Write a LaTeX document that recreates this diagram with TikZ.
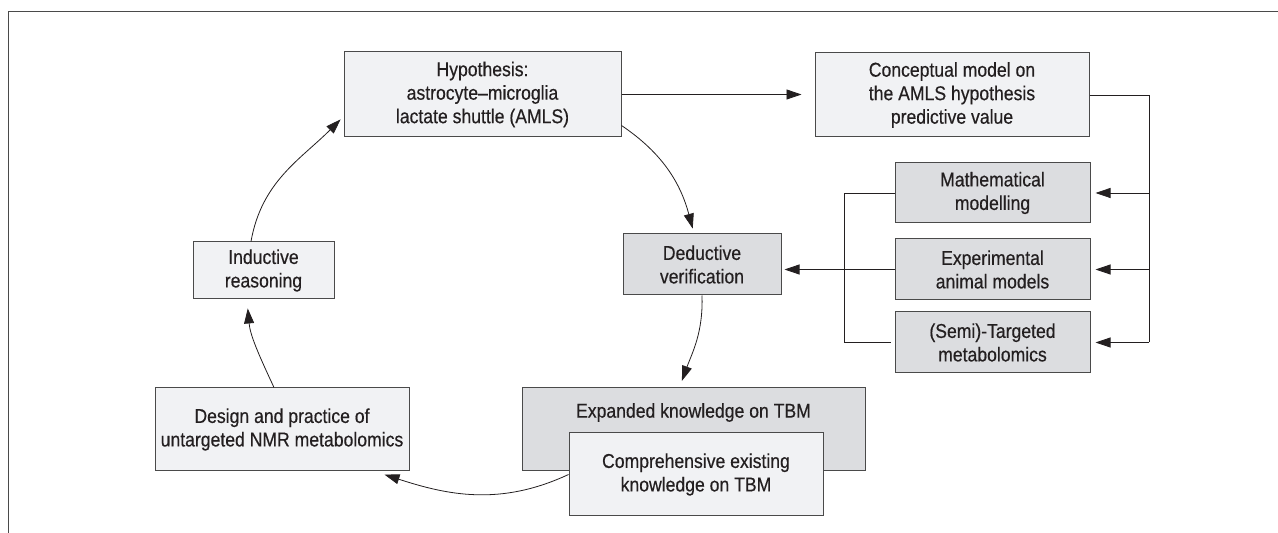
\documentclass[tikz,border=0pt]{standalone}
\usepackage{fontspec}
\setmainfont{Liberation Sans}[FakeStretch=0.88, FakeBold=0.4]
\usetikzlibrary{positioning, arrows.meta}
\definecolor{boxlight}{HTML}{F1F2F4}
\definecolor{boxdark}{HTML}{DCDDE0}
\definecolor{edgegray}{HTML}{4A4A4A}
\definecolor{inkgray}{HTML}{231F20}

\begin{document}
\begin{tikzpicture}[x=1pt, y=1pt,
	every node/.style={font=\fontsize{20}{23.5}\selectfont, text=inkgray, align=center, inner sep=0pt},
	lightbox/.style={draw=edgegray, line width=1pt, fill=boxlight},
	darkbox/.style={draw=edgegray, line width=1pt, fill=boxdark},
	link/.style={draw=inkgray, line width=0.8pt},
	arrowlink/.style={link, -{Triangle[length=15pt, width=10pt]}}]
	\useasboundingbox (0,0) rectangle (1278,533);
	\draw[edgegray, line width=1pt] (8,0) -- (8,521) -- (1278,521);
	
	\node[lightbox, minimum width=277pt, minimum height=85pt] (hyp) at (482.5,438.5) {Hypothesis:\\astrocyte--microglia\\lactate shuttle (AMLS)};
	\node[lightbox, minimum width=274pt, minimum height=84pt] (concept) at (952,438) {Conceptual model on\\the AMLS hypothesis\\predictive value};
	\node[darkbox, minimum width=195pt, minimum height=60pt] (math) at (992.5,340) {Mathematical\\modelling};
	\node[darkbox, minimum width=195pt, minimum height=61pt, below=15pt of math] (expt) {Experimental\\animal models};
	\node[darkbox, minimum width=195pt, minimum height=61pt, below=11pt of expt] (semi) {(Semi)-Targeted\\metabolomics};
	\node[darkbox, minimum width=158pt, minimum height=61pt] (ded) at (702,268.5) {Deductive\\verification};
	\node[lightbox, minimum width=141pt, minimum height=57pt] (ind) at (263.5,262.5) {Inductive\\reasoning};
	\node[lightbox, minimum width=254pt, minimum height=83pt] (design) at (282,103.5) {Design and practice of\\untargeted NMR metabolomics};
	\node[darkbox, minimum width=343pt, minimum height=83pt, right=112pt of design,
		label={[anchor=center, yshift=-25pt]north:Expanded knowledge on TBM}] (expanded) {};
	\node[lightbox, minimum width=254pt, minimum height=83pt] (comp) at (696,58.5) {Comprehensive existing\\knowledge on TBM};
	
	\coordinate (rbus) at (1149,0);
	\coordinate (lbus) at (844,0);
	
	\draw[arrowlink, shorten >=13pt] (hyp.east) -- (hyp.east -| concept.west);
	\draw[link] (concept.east) -- (concept.east -| rbus) -- (rbus |- semi.east);
	\draw[arrowlink, shorten >=5pt] (rbus |- math.east) -- (math.east);
	\draw[arrowlink, shorten >=5pt] (rbus |- expt.east) -- (expt.east);
	\draw[arrowlink, shorten >=5pt] (rbus |- semi.east) -- (semi.east);
	\draw[link] (math.west) -- (math.west -| lbus) -- (lbus |- semi.west) -- ([xshift=-4pt]semi.west);
	\draw[arrowlink, shorten >=3pt] (expt.west) -- (expt.west -| ded.east);
	
	\draw[arrowlink, shorten >=5pt] ([yshift=12pt]hyp.south east) to[out=-34, in=105] ([xshift=-8pt]ded.north);
	\draw[arrowlink, shorten >=7pt] (ded.south) to[out=-88, in=70] ([xshift=-14pt]expanded.north);
	\draw[arrowlink, shorten >=10pt] (comp.west) to[out=205, in=-18] ([xshift=93pt]design.south);
	\draw[arrowlink, shorten >=9pt] ([xshift=-8pt]design.north) to[out=115, in=-85] ([xshift=-16.5pt]ind.south);
	\draw[arrowlink, shorten >=4pt] ([xshift=-12.5pt]ind.north) to[out=80, in=-135] ([yshift=-22pt]hyp.west);
\end{tikzpicture}
\end{document}
